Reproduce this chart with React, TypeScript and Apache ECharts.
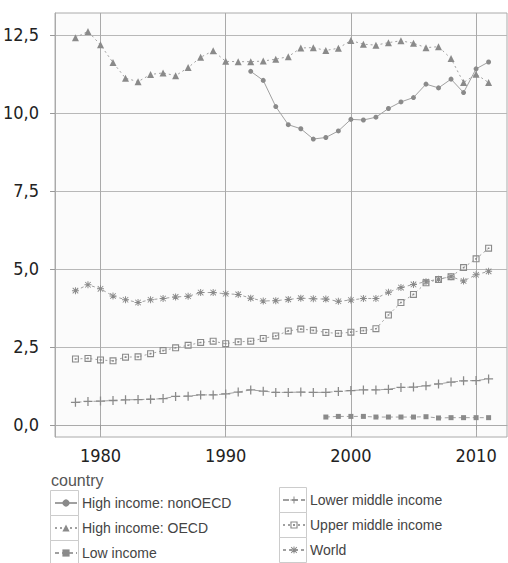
import React, { useEffect, useRef } from 'react';
import * as echarts from 'echarts';

const years = [1978, 1979, 1980, 1981, 1982, 1983, 1984, 1985, 1986, 1987, 1988, 1989,
  1990, 1991, 1992, 1993, 1994, 1995, 1996, 1997, 1998, 1999,
  2000, 2001, 2002, 2003, 2004, 2005, 2006, 2007, 2008, 2009, 2010, 2011];

const highNonOECD: (number | null)[] = [null, null, null, null, null, null, null, null, null, null, null, null,
  null, null, 11.33, 11.04, 10.2, 9.62, 9.49, 9.16, 9.21, 9.42,
  9.79, 9.77, 9.86, 10.14, 10.35, 10.49, 10.92, 10.8, 11.08, 10.65, 11.41, 11.63];

const highOECD: (number | null)[] = [12.41, 12.61, 12.18, 11.61, 11.11, 11.0, 11.23, 11.28, 11.19, 11.45, 11.78, 11.99,
  11.65, 11.64, 11.64, 11.66, 11.72, 11.8, 12.08, 12.09, 12.0, 12.07,
  12.32, 12.2, 12.17, 12.25, 12.31, 12.23, 12.09, 12.12, 11.74, 10.97, 11.24, 10.97];

const lowIncome: (number | null)[] = [null, null, null, null, null, null, null, null, null, null, null, null,
  null, null, null, null, null, null, null, null, 0.25, 0.27,
  0.27, 0.27, 0.25, 0.25, 0.25, 0.25, 0.26, 0.22, 0.23, 0.23, 0.23, 0.23];

const lowerMiddle: (number | null)[] = [0.72, 0.75, 0.76, 0.78, 0.8, 0.81, 0.82, 0.84, 0.91, 0.92, 0.96, 0.96,
  0.99, 1.05, 1.12, 1.08, 1.04, 1.04, 1.05, 1.04, 1.04, 1.07,
  1.1, 1.12, 1.12, 1.14, 1.2, 1.21, 1.25, 1.31, 1.37, 1.41, 1.42, 1.47];

const upperMiddle: (number | null)[] = [2.11, 2.13, 2.08, 2.05, 2.17, 2.18, 2.28, 2.38, 2.47, 2.55, 2.64, 2.68,
  2.6, 2.66, 2.68, 2.77, 2.85, 3.01, 3.07, 3.03, 2.96, 2.93,
  2.97, 3.02, 3.08, 3.52, 3.92, 4.18, 4.55, 4.66, 4.75, 5.04, 5.32, 5.66];

const world: (number | null)[] = [4.3, 4.49, 4.36, 4.13, 4.01, 3.92, 4.01, 4.05, 4.1, 4.12, 4.24, 4.24,
  4.2, 4.18, 4.06, 3.97, 3.98, 4.02, 4.06, 4.04, 4.03, 3.96,
  4.0, 4.05, 4.05, 4.25, 4.4, 4.5, 4.59, 4.67, 4.75, 4.61, 4.81, 4.92];

const xTicks = [1980, 1990, 2000, 2010];
const yTicks = [0, 2.5, 5, 7.5, 10, 12.5];

const seriesNames = ['High income: nonOECD', 'High income: OECD', 'Low income',
  'Lower middle income', 'Upper middle income', 'World'];

const PLUS = 'path://M4.3,0h1.4v4.3h4.3v1.4h-4.3v4.3h-1.4v-4.3h-4.3v-1.4h4.3z';
const BOXDOT = 'path://M0,0H10V10H0Z M1.6,1.6V8.4H8.4V1.6Z M3.8,3.8H6.2V6.2H3.8Z';
const STAR = 'path://M4.3,0h1.4v4.3h4.3v1.4h-4.3v4.3h-1.4v-4.3h-4.3v-1.4h4.3z M1.5,0.6L9.4,8.5L8.5,9.4L0.6,1.5Z M8.5,0.6L9.4,1.5L1.5,9.4L0.6,8.5Z';

const AXIS_FONT = '"DejaVu Sans Condensed", "Liberation Sans", sans-serif';
const TEXT_FONT = '"Liberation Sans", Arial, sans-serif';

function pairs(vals: (number | null)[]) {
  const out: [number, number][] = [];
  years.forEach((y, i) => {
    const v = vals[i];
    if (v !== null && v !== undefined) out.push([y, v]);
  });
  return out;
}

export default function App() {
  const ref = useRef<HTMLDivElement>(null);
  useEffect(() => {
    if (!ref.current) return;
    const chart = echarts.init(ref.current, undefined, { renderer: 'svg' });
    const mk = (name: string, vals: (number | null)[], symbol: string, size: number, type: any) => ({
      name,
      type: 'line',
      data: pairs(vals),
      symbol,
      symbolSize: size,
      showSymbol: true,
      itemStyle: { color: '#8a8a8a' },
      lineStyle: { color: '#a0a0a0', width: 1, type },
      emphasis: { disabled: true },
      silent: true,
    });
    const legendText = { fontSize: 14, color: '#444', fontFamily: TEXT_FONT, lineHeight: 14 };
    const legendBase = {
      orient: 'vertical', itemWidth: 22, itemHeight: 9, itemGap: 11, padding: 0,
      selectedMode: false, textStyle: legendText, height: 80,
    };
    chart.setOption({
      animation: false,
      backgroundColor: '#ffffff',
      grid: {
        left: 53, top: 13, right: 1, bottom: 126,
        show: true, backgroundColor: '#fbfbfb', borderColor: '#aaaaaa', borderWidth: 1,
      },
      xAxis: {
        type: 'value', min: 1976.37, max: 2012.47,
        axisLine: { show: true, lineStyle: { color: '#aaaaaa' } },
        axisTick: { show: true, customValues: xTicks, length: 5, lineStyle: { color: '#999' } },
        axisLabel: {
          customValues: xTicks, margin: 9, fontSize: 18, color: '#222', fontFamily: AXIS_FONT,
          formatter: (v: number) => String(v),
        },
        splitLine: { show: true, lineStyle: { color: '#aaaaaa', width: 1 } },
      },
      yAxis: {
        type: 'value', min: -0.39, max: 13.2,
        axisLine: { show: true, lineStyle: { color: '#aaaaaa' } },
        axisTick: { show: true, customValues: yTicks, length: 5, lineStyle: { color: '#999' } },
        axisLabel: {
          customValues: yTicks, margin: 16, fontSize: 18, color: '#222', fontFamily: AXIS_FONT,
          formatter: (v: number) => v.toFixed(1).replace('.', ','),
        },
        splitLine: { show: true, lineStyle: { color: '#b8b8b8', width: 1 } },
      },
      legend: [
        { ...legendBase, data: seriesNames.slice(0, 3), left: 54, top: 496 },
        { ...legendBase, data: seriesNames.slice(3), left: 282, top: 493 },
      ],
      graphic: [
        { type: 'text', left: 51, top: 472, style: { text: 'country', fontSize: 16, fill: '#555', fontFamily: TEXT_FONT } },
        { type: 'rect', shape: { x: 50.5, y: 490.5, width: 28, height: 25 }, style: { fill: 'none', stroke: '#cccccc' } },
        { type: 'rect', shape: { x: 50.5, y: 515.5, width: 28, height: 25 }, style: { fill: 'none', stroke: '#cccccc' } },
        { type: 'rect', shape: { x: 50.5, y: 540.5, width: 28, height: 25 }, style: { fill: 'none', stroke: '#cccccc' } },
        { type: 'rect', shape: { x: 279.5, y: 487.5, width: 27, height: 25 }, style: { fill: 'none', stroke: '#cccccc' } },
        { type: 'rect', shape: { x: 279.5, y: 512.5, width: 27, height: 25 }, style: { fill: 'none', stroke: '#cccccc' } },
        { type: 'rect', shape: { x: 279.5, y: 537.5, width: 27, height: 25 }, style: { fill: 'none', stroke: '#cccccc' } },
      ],
      series: [
        mk(seriesNames[0], highNonOECD, 'circle', 5, 'solid'),
        mk(seriesNames[1], highOECD, 'triangle', 7, [2, 3]),
        mk(seriesNames[2], lowIncome, 'rect', 5, [4, 3]),
        mk(seriesNames[3], lowerMiddle, PLUS, 9, [6, 3]),
        mk(seriesNames[4], upperMiddle, BOXDOT, 7, [2, 3]),
        mk(seriesNames[5], world, STAR, 7, [3, 3]),
      ],
    });
    return () => chart.dispose();
  }, []);
  return <div ref={ref} style={{ position: 'fixed', left: 0, top: 0, width: 508, height: 563 }} />;
}
